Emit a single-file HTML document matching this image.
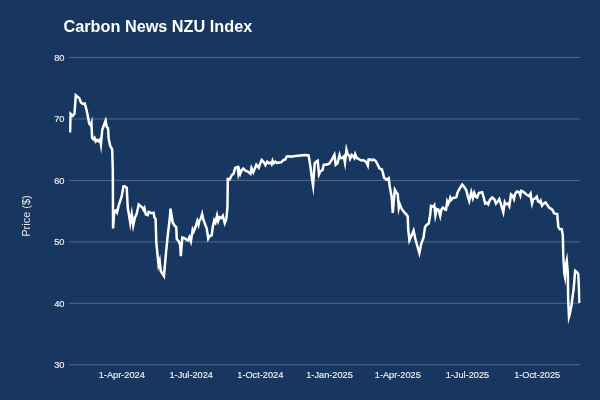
<!DOCTYPE html>
<html><head><meta charset="utf-8">
<style>
html,body{margin:0;padding:0;background:#173761;}
body{width:600px;height:400px;overflow:hidden;}
svg{display:block}
text{font-family:"Liberation Sans",Arial,sans-serif;}
</style></head><body>
<svg width="600" height="400" viewBox="0 0 600 400">
<defs><clipPath id="ca"><rect x="69.1" y="50" width="511.5" height="320"/></clipPath></defs>
<rect x="0" y="0" width="600" height="400" fill="#173761"/>
<text x="63.5" y="32" font-size="16.25" font-weight="bold" fill="#ffffff">Carbon News NZU Index</text>
<g fill="#50698f">
<rect x="69" y="57" width="511" height="1"/>
<rect x="69" y="118.45" width="511" height="1"/>
<rect x="69" y="179.9" width="511" height="1"/>
<rect x="69" y="241.35" width="511" height="1"/>
<rect x="69" y="302.8" width="511" height="1"/>
<rect x="69" y="364.25" width="511" height="1"/>
</g>
<g font-size="9.3" fill="#f0f0f0" stroke="#f0f0f0" stroke-width="0.15" text-anchor="end">
<text x="64.5" y="60.7">80</text>
<text x="64.5" y="122.2">70</text>
<text x="64.5" y="183.7">60</text>
<text x="64.5" y="245.2">50</text>
<text x="64.5" y="306.7">40</text>
<text x="64.5" y="368.2">30</text>
</g>
<g font-size="9.3" fill="#f0f0f0" stroke="#f0f0f0" stroke-width="0.15" text-anchor="middle">
<text transform="translate(121.75 378.2) scale(0.99 1)">1-Apr-2024</text>
<text transform="translate(191.2 378.2) scale(0.99 1)">1-Jul-2024</text>
<text transform="translate(260.3 378.2) scale(0.99 1)">1-Oct-2024</text>
<text transform="translate(329.5 378.2) scale(0.99 1)">1-Jan-2025</text>
<text transform="translate(397.8 378.2) scale(0.99 1)">1-Apr-2025</text>
<text transform="translate(467.4 378.2) scale(0.99 1)">1-Jul-2025</text>
<text transform="translate(537.2 378.2) scale(0.99 1)">1-Oct-2025</text>
</g>
<text x="29.8" y="216" font-size="11" fill="#e6e6e6" text-anchor="middle" transform="rotate(-90 29.8 216)">Price ($)</text>
<path id="ln" d="M70.05,132.50 L70.55,113.80 L72.75,115.80 L74.50,113.50 L75.80,95.30 L77.25,96.50 L79.20,98.00 L81.00,102.50 L82.80,104.00 L84.75,103.50 L86.80,111.00 L89.25,123.50 L90.75,125.50 L91.48,123.24 L92.10,137.75 L93.30,139.25 L94.50,137.75 L95.70,141.50 L97.20,140.00 L98.70,141.20 L100.20,139.25 L100.95,144.11 L102.30,129.50 L104.25,124.25 L105.60,120.65 L106.80,127.25 L108.00,128.00 L108.75,139.25 L110.25,146.00 L112.20,149.30 L112.80,170.00 L113.05,228.50 L114.25,212.00 L115.75,210.50 L117.00,212.50 L118.75,205.25 L121.75,196.25 L123.40,186.30 L124.75,186.20 L126.70,187.70 L127.75,207.50 L129.25,216.50 L130.29,223.15 L131.75,214.13 L133.23,225.41 L134.80,218.00 L136.75,213.50 L138.70,204.50 L140.50,206.00 L142.30,207.50 L143.50,209.75 L144.43,208.04 L145.75,214.25 L147.70,215.00 L148.75,212.00 L151.00,213.00 L153.70,212.75 L154.40,217.50 L155.60,218.75 L156.30,242.50 L158.53,264.90 L159.69,260.82 L160.75,271.00 L162.70,274.00 L163.94,275.95 L166.00,253.00 L167.80,235.00 L169.60,220.00 L170.44,209.70 L170.64,209.70 L172.70,222.50 L174.50,225.50 L176.30,227.30 L176.75,239.00 L178.70,241.25 L180.20,245.00 L180.80,256.25 L182.30,237.50 L184.70,238.25 L186.50,239.75 L188.00,240.50 L189.42,237.17 L190.87,241.36 L192.69,229.52 L193.70,231.50 L195.50,227.00 L197.30,221.00 L198.50,224.75 L199.55,220.25 L200.75,218.75 L202.15,214.04 L203.30,219.50 L205.25,224.75 L206.75,228.50 L208.25,238.70 L209.75,236.00 L211.70,235.25 L212.75,227.00 L214.25,220.25 L215.45,222.50 L217.07,215.50 L218.21,220.92 L219.50,217.25 L221.30,218.00 L222.80,215.75 L224.75,223.25 L226.25,219.50 L227.45,207.50 L227.80,179.00 L229.75,179.30 L231.70,175.25 L233.50,173.75 L235.30,167.75 L237.70,167.00 L238.46,173.70 L239.33,170.34 L240.25,173.75 L241.45,170.75 L243.25,168.50 L245.50,170.75 L247.75,171.50 L250.45,173.75 L251.50,168.00 L253.30,172.25 L254.50,169.25 L256.30,164.75 L258.70,167.75 L259.75,164.75 L261.70,160.00 L263.50,161.75 L265.45,165.20 L267.25,161.75 L269.20,163.25 L271.00,162.50 L271.68,163.95 L272.56,160.66 L273.70,163.25 L275.50,161.75 L277.00,163.00 L279.25,162.50 L281.50,162.20 L283.00,160.25 L285.25,159.50 L286.75,156.50 L289.00,156.20 L291.25,156.80 L293.50,156.20 L298.00,155.75 L302.50,155.30 L306.25,155.00 L308.60,155.30 L310.50,167.00 L312.00,179.00 L313.07,185.72 L314.70,163.25 L316.20,161.75 L317.70,160.70 L319.02,174.33 L320.25,171.50 L322.50,170.00 L323.70,164.75 L326.25,164.75 L329.25,163.70 L331.50,160.25 L334.40,154.80 L335.70,164.75 L337.50,163.25 L339.56,154.91 L340.50,158.00 L342.45,158.00 L343.80,156.50 L344.95,162.70 L346.46,149.60 L347.70,154.25 L349.20,155.75 L350.07,158.84 L351.75,155.00 L353.25,156.50 L354.30,158.00 L355.20,154.25 L356.70,158.00 L358.50,158.75 L360.75,160.25 L363.00,160.25 L365.25,161.00 L366.75,163.25 L367.80,165.50 L368.55,159.50 L370.50,159.50 L372.00,160.25 L373.50,159.50 L375.75,161.00 L377.70,164.75 L379.50,168.50 L381.75,169.25 L382.80,172.25 L384.00,177.50 L386.50,179.75 L388.70,178.25 L389.75,186.50 L391.70,197.00 L392.75,213.00 L394.84,189.72 L396.50,192.50 L397.70,194.00 L398.79,207.82 L399.72,204.00 L401.75,209.00 L404.00,212.00 L406.25,214.25 L407.75,216.50 L408.20,229.50 L409.42,240.40 L411.50,235.50 L413.59,230.60 L415.25,238.50 L417.50,246.75 L419.36,253.09 L421.25,243.75 L423.50,237.75 L425.00,227.25 L426.50,225.00 L428.75,223.50 L430.25,214.50 L431.00,206.00 L433.25,206.75 L434.30,205.25 L435.39,215.29 L436.70,209.00 L438.50,209.75 L440.19,215.99 L441.50,209.30 L443.00,207.50 L444.80,209.30 L446.00,209.75 L447.23,201.44 L448.25,203.75 L449.45,200.75 L450.28,197.73 L451.25,200.00 L453.20,197.75 L455.00,197.75 L456.50,197.00 L457.25,193.25 L459.50,188.75 L462.20,184.60 L464.10,186.80 L466.30,190.20 L467.80,196.50 L469.21,201.01 L471.25,192.14 L472.83,198.07 L474.25,193.00 L475.75,196.75 L477.25,197.50 L478.75,193.00 L482.20,192.25 L483.70,197.50 L485.20,203.50 L487.00,202.75 L488.20,204.25 L490.00,199.75 L492.25,197.50 L494.20,199.00 L496.00,203.50 L497.80,201.25 L499.30,199.00 L500.80,203.50 L502.00,208.00 L503.29,212.33 L504.77,202.31 L505.75,204.25 L508.00,203.50 L509.30,206.12 L511.00,194.50 L512.80,196.00 L514.00,199.00 L515.20,193.75 L517.00,191.50 L519.25,192.25 L520.30,195.25 L521.20,190.75 L523.00,191.50 L524.80,193.00 L526.75,194.80 L529.00,196.00 L530.60,193.60 L531.25,199.00 L532.05,203.49 L533.20,199.50 L535.30,198.25 L536.80,196.75 L538.10,201.50 L539.60,202.40 L540.65,200.80 L542.00,205.75 L543.90,203.50 L545.60,202.40 L547.60,205.40 L549.40,208.00 L551.25,208.75 L552.75,210.25 L553.95,213.25 L555.75,213.70 L557.25,214.00 L557.70,220.00 L558.30,226.75 L559.80,229.30 L561.75,229.30 L562.80,235.00 L563.25,255.00 L564.30,273.00 L564.97,276.44 L565.80,265.50 L566.79,260.68 L567.75,272.00 L568.20,300.00 L568.96,317.05 L569.60,315.00 L571.50,305.00 L573.75,288.00 L575.15,270.80 L577.20,272.25 L578.25,274.00 L579.00,290.00 L579.50,303.00" fill="none" stroke="#ffffff" stroke-width="2.5" stroke-miterlimit="10" clip-path="url(#ca)"/>
</svg>
</body></html>
